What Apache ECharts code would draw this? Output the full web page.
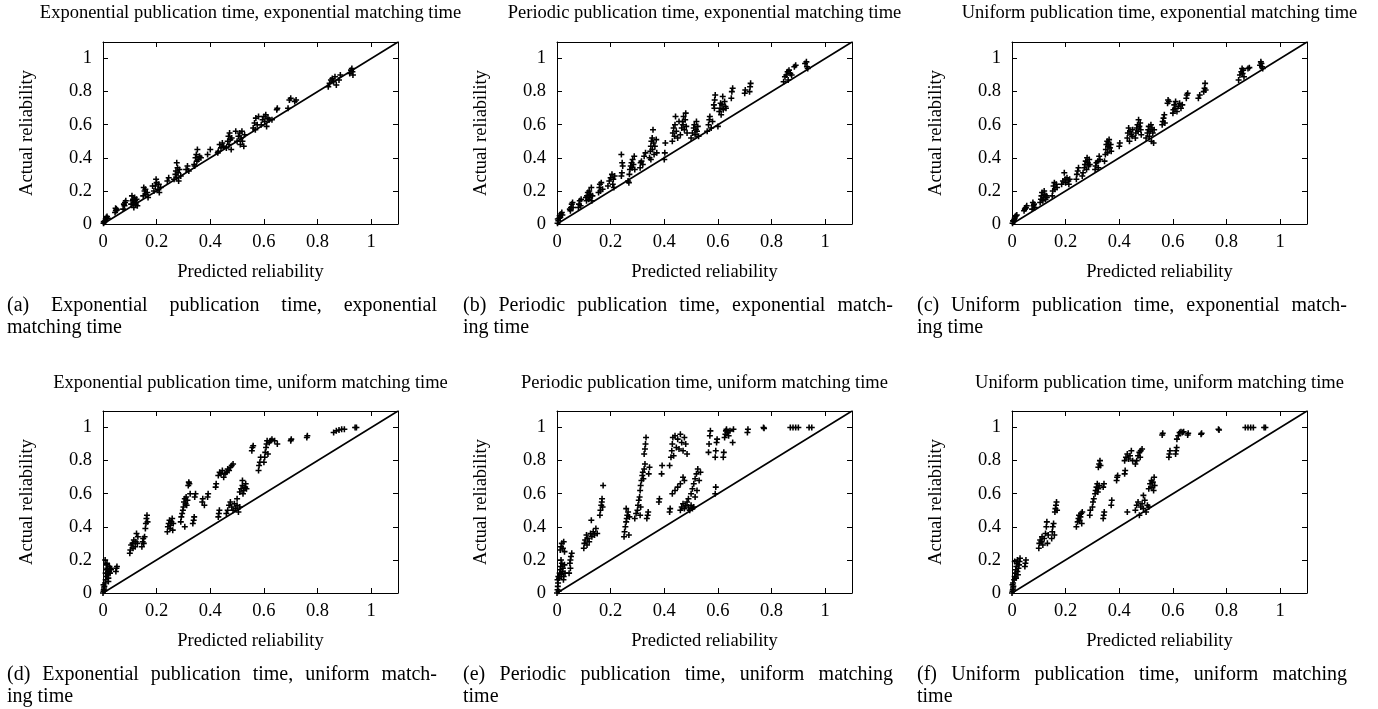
<!DOCTYPE html>
<html>
<head>
<meta charset="utf-8">
<script src="https://cdn.jsdelivr.net/npm/echarts@6/dist/echarts.min.js"></script>
<style>
  html, body { margin: 0; padding: 0; background: #fff; }
  #chart { width: 1378px; height: 709px; }
</style>
</head>
<body>
<div id="chart"></div>
<script>
// panel titles and captions
const panelTitles = [
  'Exponential publication time, exponential matching time',
  'Periodic publication time, exponential matching time',
  'Uniform publication time, exponential matching time',
  'Exponential publication time, uniform matching time',
  'Periodic publication time, uniform matching time',
  'Uniform publication time, uniform matching time'
];
const captionLine1 = [
  '(a) Exponential publication time, exponential',
  '(b) Periodic publication time, exponential match-',
  '(c) Uniform publication time, exponential match-',
  '(d) Exponential publication time, uniform match-',
  '(e) Periodic publication time, uniform matching',
  '(f) Uniform publication time, uniform matching'
];
const captionLine2 = ['matching time', 'ing time', 'ing time', 'ing time', 'time', 'time'];

const xName = 'Predicted reliability';
const yName = 'Actual reliability';

// y = x reference line
const diag = [[0, 0], [1.1, 1.1]];

// [predicted, actual] per panel
const ptsA = [
  [0.002,0.005],[0.005,0.01],[0.008,0.02],[0.01,0.03],[0.012,0.04],[0.015,0.045],[0.003,0.015],[0.018,0.035],
  [0.045,0.07],[0.048,0.08],[0.05,0.09],[0.052,0.085],[0.047,0.095],
  [0.075,0.09],[0.08,0.11],[0.082,0.13],[0.085,0.14],[0.078,0.12],
  [0.105,0.12],[0.11,0.14],[0.112,0.15],[0.115,0.13],[0.118,0.16],[0.12,0.14],[0.122,0.12],[0.125,0.15],[0.108,0.17],[0.128,0.11],[0.115,0.1],
  [0.15,0.17],[0.155,0.2],[0.158,0.21],[0.16,0.18],[0.165,0.19],[0.152,0.22],[0.168,0.16],
  [0.19,0.2],[0.195,0.23],[0.198,0.27],[0.2,0.25],[0.205,0.21],[0.208,0.24],[0.21,0.19],[0.215,0.22],[0.185,0.23],
  [0.24,0.26],[0.245,0.28],
  [0.265,0.27],[0.27,0.3],[0.272,0.32],[0.275,0.28],[0.278,0.34],[0.28,0.31],[0.282,0.26],[0.285,0.33],[0.275,0.37],[0.29,0.29],
  [0.31,0.33],[0.315,0.35],[0.32,0.32],
  [0.34,0.36],[0.345,0.4],[0.348,0.42],[0.35,0.38],[0.352,0.45],[0.355,0.39],[0.36,0.41],[0.365,0.4],[0.342,0.35],
  [0.39,0.42],[0.40,0.45],
  [0.43,0.44],[0.435,0.48],[0.44,0.46],[0.445,0.49],[0.45,0.47],[0.428,0.43],
  [0.46,0.46],[0.465,0.5],[0.468,0.53],[0.47,0.48],[0.472,0.55],[0.475,0.51],[0.478,0.45],[0.48,0.52],
  [0.5,0.5],[0.505,0.53],[0.51,0.55],[0.512,0.48],[0.515,0.52],[0.518,0.56],[0.52,0.5],[0.525,0.47],[0.528,0.54],[0.495,0.56],
  [0.56,0.58],[0.565,0.61],[0.57,0.64],[0.575,0.6],[0.58,0.65],[0.568,0.57],
  [0.59,0.6],[0.595,0.63],[0.6,0.65],[0.603,0.62],[0.607,0.66],[0.61,0.59],[0.615,0.64],[0.62,0.63],[0.63,0.63],
  [0.65,0.7],[0.648,0.69],
  [0.69,0.7],[0.695,0.75],[0.7,0.76],[0.715,0.74],[0.72,0.75],
  [0.84,0.83],[0.845,0.85],[0.85,0.87],[0.855,0.88],[0.86,0.86],[0.865,0.89],[0.87,0.84],[0.88,0.87],[0.885,0.9],
  [0.92,0.91],[0.925,0.93],[0.928,0.94],[0.93,0.92],[0.932,0.9]
];
const ptsB = [
  [0.002,0.005],[0.005,0.02],[0.008,0.035],[0.01,0.05],[0.012,0.04],[0.015,0.06],[0.018,0.07],[0.003,0.03],[0.02,0.055],
  [0.05,0.08],[0.052,0.1],[0.055,0.12],[0.048,0.09],[0.058,0.13],[0.06,0.1],
  [0.08,0.1],[0.082,0.12],[0.085,0.14],[0.09,0.15],[0.088,0.11],
  [0.11,0.14],[0.112,0.17],[0.115,0.19],[0.118,0.15],[0.12,0.2],[0.122,0.16],[0.125,0.18],[0.128,0.22],[0.13,0.14],[0.108,0.16],[0.132,0.17],
  [0.155,0.19],[0.158,0.22],[0.16,0.24],[0.162,0.2],[0.165,0.25],[0.17,0.21],
  [0.19,0.23],[0.195,0.26],[0.2,0.28],[0.205,0.3],[0.208,0.24],[0.21,0.27],[0.212,0.22],[0.215,0.29],
  [0.24,0.29],[0.242,0.31],[0.245,0.35],[0.243,0.37],[0.24,0.42],
  [0.265,0.26],[0.27,0.3],[0.272,0.33],[0.275,0.35],[0.278,0.37],[0.28,0.34],[0.282,0.39],[0.285,0.36],[0.288,0.41],[0.268,0.25],[0.29,0.33],
  [0.31,0.34],[0.312,0.37],[0.315,0.38],[0.32,0.36],[0.325,0.41],[0.33,0.43],
  [0.345,0.4],[0.348,0.44],[0.35,0.47],[0.352,0.5],[0.355,0.52],[0.356,0.45],[0.358,0.57],[0.36,0.49],[0.362,0.42],[0.365,0.47],[0.37,0.51],[0.372,0.43],[0.35,0.39],
  [0.4,0.39],[0.402,0.43],[0.404,0.49],
  [0.43,0.5],[0.432,0.55],[0.435,0.58],[0.438,0.53],[0.44,0.6],[0.442,0.65],[0.445,0.56],[0.45,0.52],[0.455,0.62],
  [0.46,0.54],[0.465,0.58],[0.468,0.62],[0.47,0.6],[0.472,0.65],[0.475,0.57],[0.478,0.63],[0.48,0.67],[0.482,0.59],[0.485,0.55],
  [0.5,0.52],[0.505,0.55],[0.51,0.58],[0.512,0.6],[0.515,0.54],[0.518,0.57],[0.52,0.62],[0.522,0.56],[0.525,0.59],[0.528,0.53],
  [0.56,0.56],[0.565,0.6],[0.568,0.63],[0.57,0.65],[0.575,0.58],[0.58,0.62],
  [0.585,0.72],[0.588,0.75],[0.59,0.78],[0.587,0.7],
  [0.6,0.59],[0.605,0.68],[0.608,0.7],[0.61,0.73],[0.612,0.66],[0.615,0.72],[0.618,0.77],[0.62,0.69],[0.625,0.74],[0.628,0.71],[0.63,0.7],
  [0.65,0.76],[0.652,0.8],[0.655,0.82],
  [0.7,0.79],[0.702,0.81],[0.718,0.8],[0.72,0.83],[0.722,0.85],
  [0.845,0.86],[0.85,0.89],[0.855,0.9],[0.86,0.92],[0.862,0.87],[0.865,0.93],[0.87,0.91],[0.875,0.9],
  [0.885,0.95],[0.89,0.96],
  [0.925,0.97],[0.93,0.98],[0.932,0.95],[0.935,0.94]
];
const ptsC = [
  [0.002,0.005],[0.005,0.015],[0.008,0.025],[0.01,0.035],[0.012,0.045],[0.015,0.05],[0.018,0.055],[0.004,0.02],
  [0.045,0.08],[0.05,0.095],[0.052,0.1],[0.055,0.11],[0.048,0.09],
  [0.075,0.09],[0.08,0.11],[0.082,0.12],[0.085,0.1],[0.078,0.13],
  [0.105,0.13],[0.108,0.15],[0.11,0.17],[0.112,0.19],[0.115,0.14],[0.118,0.16],[0.12,0.2],[0.122,0.18],[0.125,0.15],[0.128,0.17],[0.13,0.16],
  [0.15,0.17],[0.152,0.2],[0.155,0.23],[0.158,0.25],[0.16,0.21],[0.165,0.24],[0.168,0.22],
  [0.185,0.24],[0.19,0.26],[0.195,0.31],[0.198,0.27],[0.2,0.25],[0.205,0.28],[0.21,0.26],[0.215,0.27],[0.212,0.24],
  [0.24,0.27],[0.242,0.3],[0.245,0.32],[0.248,0.34],
  [0.262,0.29],[0.265,0.31],[0.27,0.34],[0.272,0.36],[0.275,0.38],[0.278,0.33],[0.28,0.4],[0.282,0.37],[0.285,0.35],[0.288,0.39],[0.29,0.36],
  [0.31,0.33],[0.312,0.35],[0.315,0.37],[0.32,0.38],[0.322,0.34],[0.325,0.41],[0.328,0.39],
  [0.345,0.38],[0.348,0.42],[0.35,0.45],[0.352,0.48],[0.355,0.5],[0.356,0.43],[0.358,0.47],[0.36,0.49],[0.362,0.51],[0.365,0.46],[0.368,0.48],[0.37,0.44],
  [0.4,0.47],[0.402,0.49],
  [0.43,0.52],[0.432,0.55],[0.435,0.58],[0.438,0.5],[0.44,0.56],[0.445,0.54],[0.45,0.57],[0.448,0.53],
  [0.46,0.52],[0.462,0.55],[0.465,0.58],[0.468,0.6],[0.47,0.56],[0.472,0.63],[0.475,0.59],[0.478,0.61],[0.48,0.57],[0.482,0.54],
  [0.5,0.52],[0.505,0.55],[0.508,0.57],[0.51,0.59],[0.512,0.53],[0.515,0.56],[0.518,0.6],[0.52,0.5],[0.522,0.58],[0.525,0.55],[0.528,0.49],[0.53,0.57],
  [0.56,0.6],[0.562,0.62],[0.565,0.64],[0.568,0.66],[0.57,0.61],
  [0.58,0.73],[0.582,0.75],[0.585,0.74],
  [0.6,0.67],[0.602,0.69],[0.605,0.72],[0.608,0.7],[0.61,0.74],[0.615,0.68],[0.62,0.71],[0.625,0.73],[0.63,0.7],[0.635,0.72],
  [0.65,0.76],[0.652,0.78],[0.655,0.79],
  [0.695,0.76],[0.7,0.78],
  [0.715,0.8],[0.718,0.82],[0.72,0.85],[0.722,0.81],
  [0.845,0.87],[0.85,0.9],[0.855,0.92],[0.858,0.94],[0.86,0.91],[0.862,0.93],[0.865,0.89],
  [0.88,0.94],[0.885,0.945],
  [0.925,0.96],[0.928,0.98],[0.93,0.97],[0.932,0.95],[0.935,0.94]
];
const ptsD = [
  [0.0,0.0],[0.002,0.01],[0.003,0.02],[0.004,0.03],[0.005,0.04],[0.002,0.05],[0.006,0.015],
  [0.008,0.06],[0.01,0.08],[0.012,0.1],[0.01,0.12],[0.014,0.14],[0.016,0.15],[0.018,0.11],[0.02,0.09],[0.022,0.13],[0.024,0.16],[0.015,0.18],[0.008,0.2],[0.02,0.07],[0.026,0.12],[0.028,0.15],[0.012,0.17],[0.03,0.14],
  [0.048,0.13],[0.05,0.15],[0.052,0.16],
  [0.1,0.24],[0.102,0.26],[0.105,0.29],[0.11,0.3],[0.112,0.27],[0.115,0.32],[0.12,0.28],[0.122,0.31],[0.125,0.36],[0.128,0.3],[0.13,0.34],
  [0.145,0.28],[0.148,0.31],[0.15,0.33],[0.152,0.3],[0.155,0.34],
  [0.158,0.39],[0.16,0.42],[0.162,0.45],[0.164,0.47],[0.166,0.43],
  [0.24,0.37],[0.242,0.4],[0.245,0.42],[0.248,0.44],[0.25,0.39],[0.252,0.41],[0.255,0.43],[0.258,0.45],[0.26,0.38],[0.262,0.42],
  [0.29,0.43],[0.292,0.46],[0.295,0.48],[0.298,0.5],
  [0.3,0.52],[0.302,0.55],[0.305,0.57],[0.308,0.54],[0.31,0.58],[0.312,0.53],[0.315,0.56],[0.318,0.65],[0.32,0.67],[0.322,0.66],[0.325,0.6],[0.305,0.4],
  [0.335,0.42],[0.338,0.44],[0.34,0.46],[0.342,0.58],[0.345,0.6],
  [0.37,0.55],[0.372,0.57],[0.378,0.53],
  [0.39,0.58],[0.392,0.6],
  [0.42,0.64],[0.422,0.66],
  [0.43,0.46],[0.432,0.48],[0.434,0.5],
  [0.43,0.71],[0.435,0.73],[0.44,0.72],[0.445,0.74],[0.45,0.7],[0.455,0.72],[0.46,0.73],[0.465,0.75],[0.47,0.74],[0.475,0.76],[0.48,0.77],[0.485,0.78],
  [0.46,0.48],[0.465,0.5],[0.47,0.53],[0.475,0.55],[0.48,0.52],[0.485,0.5],[0.49,0.54],[0.495,0.51],[0.5,0.53],[0.505,0.49],[0.5,0.57],[0.51,0.52],
  [0.51,0.61],[0.515,0.63],[0.52,0.65],[0.522,0.6],[0.525,0.62],[0.53,0.64],[0.532,0.66],[0.535,0.63],[0.52,0.68],
  [0.555,0.86],[0.557,0.88],[0.56,0.89],
  [0.58,0.74],[0.582,0.77],[0.585,0.79],[0.588,0.82],
  [0.6,0.79],[0.603,0.82],[0.605,0.85],[0.608,0.88],[0.61,0.9],[0.612,0.92],[0.615,0.84],[0.62,0.91],
  [0.625,0.92],[0.63,0.93],[0.64,0.92],
  [0.65,0.9],
  [0.7,0.92],[0.702,0.93],
  [0.76,0.94],[0.762,0.95],
  [0.86,0.97],[0.87,0.98],[0.88,0.985],[0.89,0.99],[0.9,0.99],
  [0.94,1.0],[0.945,1.0]
];
const ptsE = [
  [0.0,0.0],[0.002,0.02],[0.003,0.04],[0.004,0.06],[0.002,0.08],[0.005,0.1],[0.006,0.01],
  [0.008,0.09],[0.01,0.12],[0.012,0.14],[0.014,0.16],[0.016,0.11],[0.018,0.18],[0.02,0.13],[0.022,0.15],[0.025,0.1],[0.028,0.17],[0.03,0.12],[0.015,0.2],[0.024,0.08],
  [0.012,0.26],[0.015,0.28],[0.018,0.3],[0.022,0.27],[0.025,0.31],[0.028,0.25],
  [0.045,0.12],[0.048,0.18],[0.05,0.2],[0.052,0.22],[0.055,0.24],[0.05,0.15],
  [0.1,0.27],[0.102,0.3],[0.105,0.32],[0.11,0.35],[0.112,0.29],[0.115,0.33],[0.12,0.31],[0.125,0.36],[0.128,0.44],[0.13,0.34],[0.135,0.37],[0.14,0.35],[0.145,0.39],[0.15,0.36],
  [0.16,0.47],[0.162,0.5],[0.165,0.53],[0.167,0.55],[0.168,0.57],[0.17,0.52],[0.172,0.65],
  [0.25,0.34],[0.252,0.37],[0.255,0.4],[0.258,0.43],[0.26,0.45],[0.262,0.47],[0.265,0.49],[0.258,0.51],[0.27,0.46],[0.268,0.35],
  [0.29,0.45],[0.295,0.48],[0.3,0.5],[0.302,0.53],[0.305,0.56],[0.308,0.58],[0.31,0.47],[0.312,0.52],
  [0.31,0.62],[0.312,0.65],[0.315,0.68],[0.318,0.71],[0.32,0.73],[0.322,0.69],[0.325,0.75],[0.328,0.78],
  [0.325,0.84],[0.328,0.87],[0.33,0.9],[0.332,0.94],
  [0.335,0.45],[0.338,0.47],[0.34,0.49],[0.342,0.72],[0.345,0.76],
  [0.38,0.55],[0.382,0.57],
  [0.39,0.72],[0.392,0.77],
  [0.42,0.49],[0.422,0.51],
  [0.42,0.77],[0.425,0.82],[0.428,0.86],[0.43,0.9],[0.432,0.94],[0.435,0.83],[0.44,0.95],[0.445,0.88],[0.45,0.93],[0.455,0.87],[0.46,0.96],[0.465,0.91],[0.47,0.86],[0.475,0.94],[0.48,0.9],[0.485,0.84],
  [0.43,0.6],[0.44,0.62],[0.45,0.64],[0.46,0.66],[0.47,0.7],[0.475,0.68],
  [0.46,0.5],[0.465,0.52],[0.47,0.54],[0.475,0.51],[0.48,0.53],[0.485,0.55],[0.49,0.52],[0.495,0.5],[0.5,0.53],[0.505,0.51],[0.51,0.52],[0.49,0.57],
  [0.5,0.6],[0.505,0.63],[0.51,0.66],[0.515,0.69],[0.52,0.72],[0.525,0.75],[0.53,0.68],[0.522,0.62],[0.535,0.73],[0.515,0.58],
  [0.565,0.85],[0.567,0.9],[0.57,0.95],[0.572,0.98],
  [0.59,0.6],[0.592,0.64],[0.59,0.82],[0.592,0.86],[0.595,0.91],[0.597,0.93],
  [0.62,0.82],[0.622,0.85],[0.625,0.94],[0.628,0.96],[0.63,0.98],[0.632,0.99],[0.635,0.97],[0.64,0.95],[0.645,0.98],
  [0.655,0.91],[0.658,0.99],
  [0.71,0.97],[0.712,0.99],
  [0.77,1.0],[0.772,0.995],
  [0.87,1.0],[0.88,1.0],[0.89,1.0],[0.9,1.0],[0.94,1.0],[0.95,1.0]
];
const ptsF = [
  [0.0,0.0],[0.002,0.01],[0.003,0.02],[0.004,0.03],[0.005,0.04],[0.002,0.05],[0.004,0.06],
  [0.008,0.08],[0.01,0.1],[0.012,0.12],[0.014,0.14],[0.016,0.16],[0.018,0.18],[0.02,0.2],[0.01,0.19],[0.022,0.11],[0.024,0.15],[0.026,0.17],[0.028,0.19],[0.03,0.21],[0.015,0.09],[0.02,0.13],
  [0.048,0.16],[0.05,0.18],[0.052,0.2],
  [0.1,0.27],[0.102,0.3],[0.105,0.32],[0.11,0.31],[0.112,0.34],[0.115,0.29],[0.12,0.33],[0.125,0.36],[0.128,0.4],[0.13,0.43],[0.132,0.3],[0.135,0.35],
  [0.148,0.33],[0.15,0.37],[0.152,0.4],[0.155,0.42],[0.158,0.35],
  [0.16,0.49],[0.162,0.51],[0.164,0.53],[0.166,0.55],[0.168,0.5],
  [0.24,0.4],[0.245,0.43],[0.248,0.45],[0.25,0.47],[0.252,0.44],[0.255,0.46],[0.258,0.48],[0.26,0.42],[0.262,0.49],
  [0.29,0.47],[0.292,0.5],
  [0.3,0.52],[0.302,0.55],[0.305,0.57],
  [0.31,0.6],[0.312,0.62],[0.315,0.64],[0.318,0.66],[0.32,0.61],[0.322,0.63],[0.325,0.65],
  [0.322,0.76],[0.325,0.78],[0.328,0.8],[0.33,0.77],
  [0.34,0.45],[0.342,0.47],[0.344,0.49],[0.34,0.64],[0.343,0.66],
  [0.37,0.53],[0.372,0.56],
  [0.39,0.68],[0.392,0.7],[0.394,0.71],
  [0.42,0.72],[0.422,0.74],
  [0.43,0.49],
  [0.42,0.8],[0.425,0.82],[0.43,0.84],[0.435,0.81],[0.44,0.83],[0.445,0.86],[0.45,0.8],
  [0.46,0.78],[0.465,0.8],[0.47,0.83],[0.475,0.85],[0.48,0.86],[0.485,0.87],[0.478,0.82],
  [0.46,0.5],[0.465,0.53],[0.47,0.55],[0.475,0.47],[0.48,0.52],[0.485,0.54],[0.49,0.51],[0.495,0.56],[0.5,0.49],[0.505,0.53],[0.49,0.59],[0.51,0.52],
  [0.51,0.63],[0.515,0.66],[0.52,0.68],[0.522,0.64],[0.525,0.67],[0.53,0.7],[0.532,0.65],[0.528,0.62],
  [0.56,0.955],[0.562,0.965],
  [0.585,0.82],[0.587,0.84],[0.589,0.86],
  [0.61,0.84],[0.612,0.86],[0.614,0.88],
  [0.615,0.93],[0.62,0.95],[0.625,0.97],[0.63,0.975],[0.635,0.97],[0.64,0.975],
  [0.655,0.955],[0.657,0.965],
  [0.705,0.96],[0.707,0.965],
  [0.77,0.99],[0.772,0.985],
  [0.87,1.0],[0.88,1.0],[0.89,1.0],[0.9,1.0],[0.94,1.0],[0.945,1.0]
];
const panelPoints = [ptsA, ptsB, ptsC, ptsD, ptsE, ptsF];

// layout
const FONT = 'Liberation Serif';
const colLeft = [103, 557, 1012];
const rowTop = [42, 411];
const plotW = 295, plotH = 182;
const titleY = [13, 383];
const capCols = [[7, 437], [463, 893], [917, 1347]];
const capY = [[306, 328], [675, 697]];
const CAP_SIZE = 20;

const plusSym = 'path://M2.6,0H4.4V2.6H7V4.4H4.4V7H2.6V4.4H0V2.6H2.6Z';
const tickFmt = v => (v > 1.05 ? '' : String(Math.round(v * 10) / 10));

const grid = [], xAxis = [], yAxis = [], series = [], graphic = [];

const ctx = document.createElement('canvas').getContext('2d');
ctx.font = CAP_SIZE + 'px "' + FONT + '"';

function addText(text, x, y, size, align) {
  graphic.push({
    type: 'text', x: x, y: y, silent: true,
    style: {
      text: text, fill: '#000', font: size + 'px "' + FONT + '"',
      align: align, textAlign: align, verticalAlign: 'middle', textVerticalAlign: 'middle'
    }
  });
}

// spread words so the line fills the caption column
function justified(line, x0, x1, y) {
  const words = line.split(' ');
  const widths = words.map(w => ctx.measureText(w).width);
  const total = widths.reduce((a, b) => a + b, 0);
  const gap = (x1 - x0 - total) / (words.length - 1);
  let x = x0;
  words.forEach((w, k) => {
    addText(w, x, y, CAP_SIZE, 'left');
    x += widths[k] + gap;
  });
}

panelPoints.forEach((pts, i) => {
  const c = i % 3, r = Math.floor(i / 3);
  grid.push({ left: colLeft[c], top: rowTop[r], width: plotW, height: plotH, show: false });

  const base = {
    gridIndex: i, type: 'value', min: 0, max: 1.1, interval: 0.2,
    axisLine: { show: true, onZero: false, lineStyle: { color: '#000', width: 1 } },
    axisTick: { show: true, inside: true, length: 5, lineStyle: { color: '#000', width: 1 } },
    splitLine: { show: false }
  };
  const labelStyle = { color: '#000', fontFamily: FONT, fontSize: 18.5, formatter: tickFmt };
  const nameStyle = { color: '#000', fontFamily: FONT, fontSize: 18.5 };

  xAxis.push(Object.assign({}, base, {
    position: 'bottom', name: xName, nameLocation: 'middle', nameGap: 39, nameTextStyle: nameStyle,
    axisLabel: Object.assign({ margin: 9 }, labelStyle)
  }));
  xAxis.push(Object.assign({}, base, { position: 'top', axisLabel: { show: false } }));
  yAxis.push(Object.assign({}, base, {
    position: 'left', name: yName, nameLocation: 'middle', nameGap: 66, nameTextStyle: nameStyle,
    axisLabel: Object.assign({ margin: 11 }, labelStyle)
  }));
  yAxis.push(Object.assign({}, base, { position: 'right', axisLabel: { show: false } }));

  series.push({
    type: 'scatter', xAxisIndex: 2 * i, yAxisIndex: 2 * i, data: pts,
    symbol: plusSym, symbolSize: 6, itemStyle: { color: '#000', opacity: 1 },
    silent: true, animation: false
  });
  series.push({
    type: 'line', xAxisIndex: 2 * i, yAxisIndex: 2 * i, data: diag,
    showSymbol: false, lineStyle: { color: '#000', width: 1.6 },
    silent: true, animation: false
  });

  addText(panelTitles[i], colLeft[c] + plotW / 2, titleY[r], 18.5, 'center');
  justified(captionLine1[i], capCols[c][0], capCols[c][1], capY[r][0]);
  addText(captionLine2[i], capCols[c][0], capY[r][1], CAP_SIZE, 'left');
});

const chart = echarts.init(document.getElementById('chart'), null, { renderer: 'canvas' });
chart.setOption({
  backgroundColor: '#fff',
  animation: false,
  grid: grid,
  xAxis: xAxis,
  yAxis: yAxis,
  series: series,
  graphic: graphic
});
</script>
</body>
</html>
